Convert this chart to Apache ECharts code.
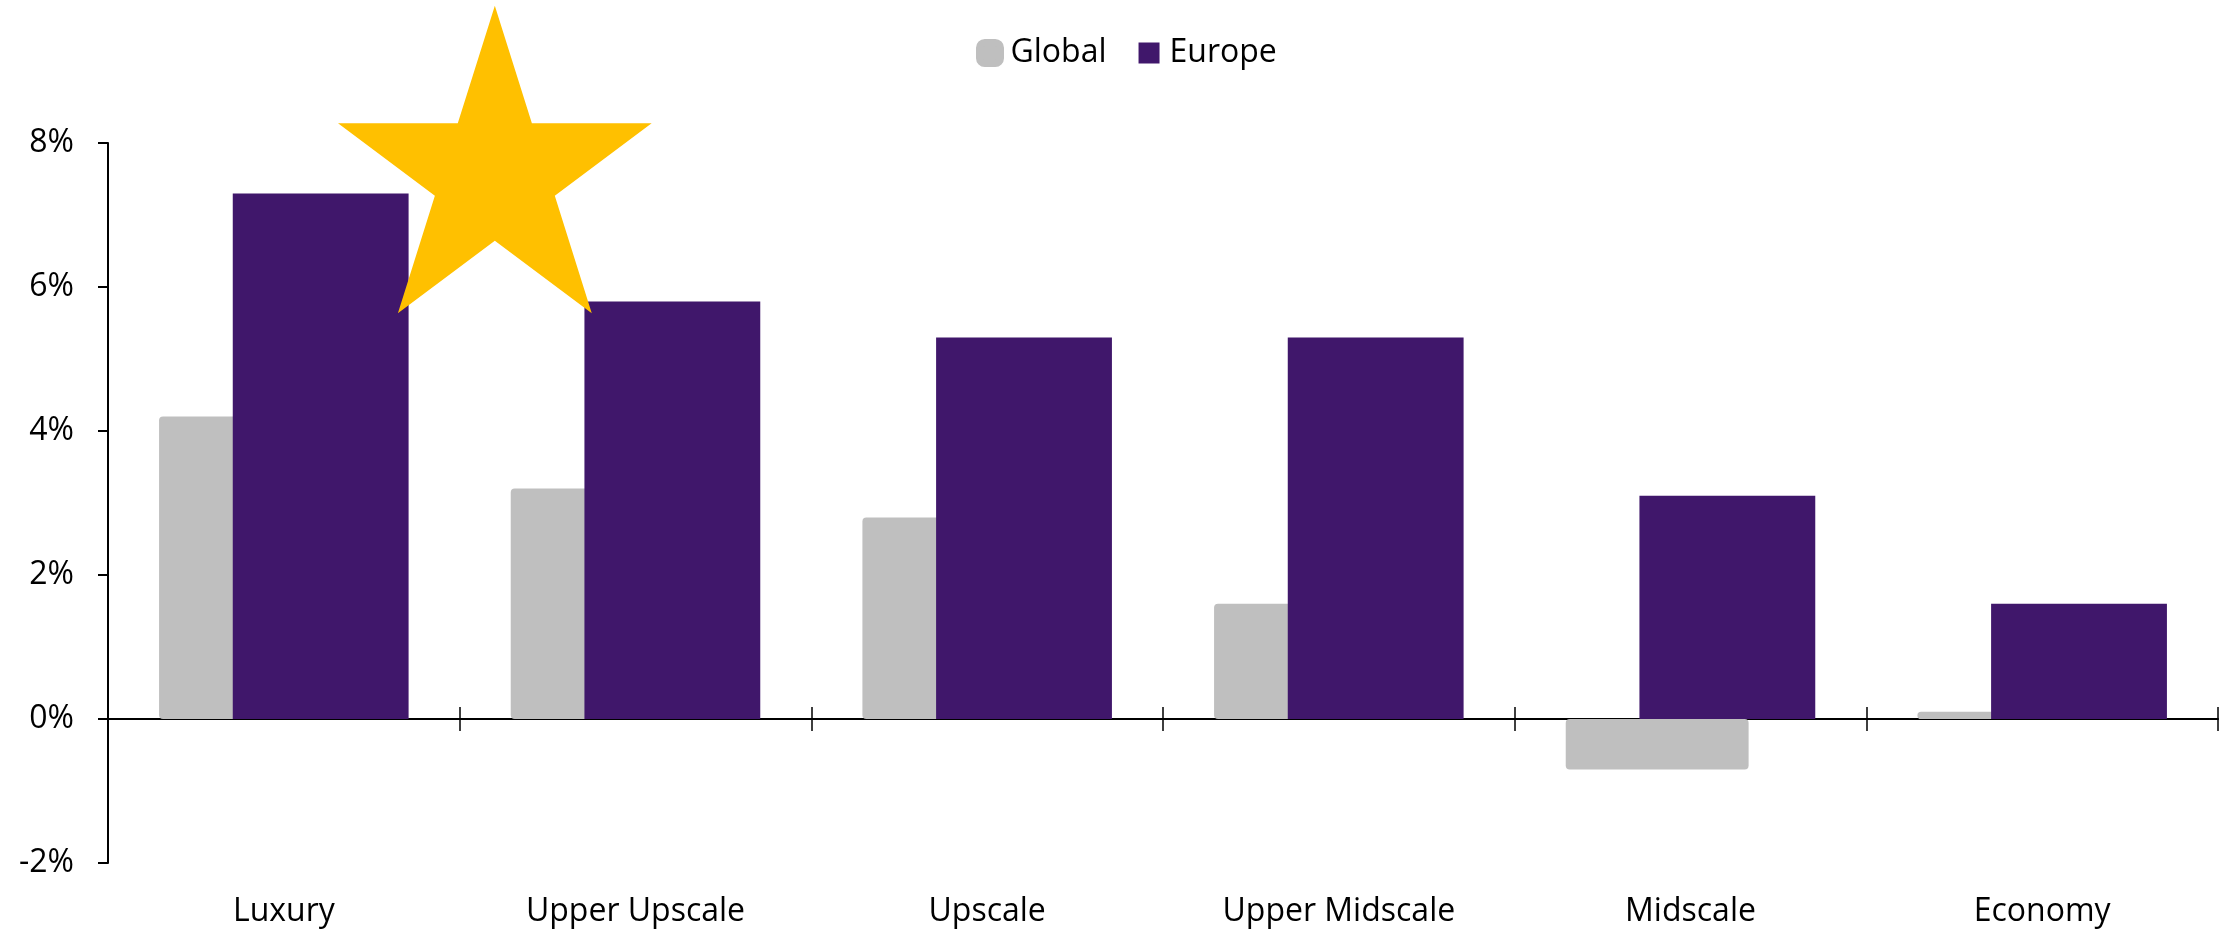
<!DOCTYPE html>
<html>
<head>
<meta charset="utf-8">
<script src="https://cdn.jsdelivr.net/npm/echarts@6/dist/echarts.min.js"></script>
<style>
  html, body { margin: 0; padding: 0; background: #ffffff; }
  #chart { width: 2239px; height: 933px; }
</style>
</head>
<body>
<div id="chart"></div>
<script>
// ---- data ----
var categories = ['Luxury', 'Upper Upscale', 'Upscale', 'Upper Midscale', 'Midscale', 'Economy'];
var globalValues = [4.2, 3.2, 2.8, 1.6, -0.7, 0.1];
var europeValues = [7.3, 5.8, 5.3, 5.3, 3.1, 1.6];
var yMin = -2, yMax = 8, yInterval = 2;
var seriesNames = ['Global', 'Europe'];
// star annotation (highlighting Luxury): placed between category 0 and 1, at a value level
var starCatFrom = 0, starCatFraction = 0.6, starValue = 7.545;

var FONT = 'Open Sans';
var chart = echarts.init(document.getElementById('chart'), null, { renderer: 'canvas' });

var option = {
  animation: false,
  backgroundColor: '#ffffff',
  textStyle: { fontFamily: FONT },
  legend: {
    left: 976,
    top: 37,
    padding: 0,
    itemGap: 32,
    itemWidth: 21,
    itemHeight: 21,
    textStyle: { fontFamily: FONT, fontSize: 32, color: '#000000', padding: [0, 0, 0, 5] },
    data: [
      { name: seriesNames[0], icon: 'roundRect', itemStyle: { color: '#BFBFBF', borderColor: '#BFBFBF', borderWidth: 7 } },
      { name: seriesNames[1], icon: 'rect', itemStyle: { color: '#40176B', borderWidth: 0 } }
    ]
  },
  grid: {
    left: 108, right: 21, top: 143, bottom: 70,
    containLabel: false
  },
  xAxis: [
    {
      // axis line at zero with downward ticks
      type: 'category',
      data: categories,
      position: 'bottom',
      axisLine: { show: true, onZero: true, onZeroAxisIndex: 0, lineStyle: { color: '#000000', width: 2 } },
      axisTick: { show: true, inside: false, length: 12, lineStyle: { color: '#000000', width: 1.5 } },
      axisLabel: { show: false },
      splitLine: { show: false }
    },
    {
      // upward halves of the crossing ticks at zero
      type: 'category',
      data: categories,
      position: 'bottom',
      axisLine: { show: false, onZero: true, onZeroAxisIndex: 1 },
      axisTick: { show: true, inside: true, length: 12, lineStyle: { color: '#000000', width: 1.5 } },
      axisLabel: { show: false },
      splitLine: { show: false }
    },
    {
      // category labels at the bottom of the plot
      type: 'category',
      data: categories,
      position: 'bottom',
      axisLine: { show: false, onZero: false },
      axisTick: { show: false },
      axisLabel: { show: true, margin: 33, fontFamily: FONT, fontSize: 32, color: '#000000' },
      splitLine: { show: false }
    }
  ],
  yAxis: [
    {
      type: 'value',
      min: yMin,
      max: yMax,
      interval: yInterval,
      axisLine: { show: true, lineStyle: { color: '#000000', width: 2 } },
      axisTick: { show: true, inside: false, length: 10, lineStyle: { color: '#000000', width: 2 } },
      axisLabel: { margin: 34, fontFamily: FONT, fontSize: 32, color: '#000000', formatter: '{value}%' },
      splitLine: { show: false }
    },
    {
      type: 'value',
      min: yMin,
      max: yMax,
      interval: yInterval,
      position: 'right',
      show: false,
      splitLine: { show: false }
    }
  ],
  series: [
    {
      name: seriesNames[0],
      type: 'bar',
      xAxisIndex: 0,
      yAxisIndex: 0,
      data: globalValues,
      barWidth: '52%',
      barGap: '-59.7%',
      itemStyle: { color: '#BFBFBF', borderRadius: 4 },
      z: 2
    },
    {
      name: seriesNames[1],
      type: 'bar',
      xAxisIndex: 0,
      yAxisIndex: 0,
      data: europeValues,
      barWidth: '50%',
      barGap: '-59.7%',
      itemStyle: { color: '#40176B' },
      z: 3
    }
  ]
};
chart.setOption(option);

// star annotation positioned through the chart's own scales
var pA = chart.convertToPixel({ xAxisIndex: 0, yAxisIndex: 0 }, [starCatFrom, starValue]);
var pB = chart.convertToPixel({ xAxisIndex: 0, yAxisIndex: 0 }, [starCatFrom + 1, starValue]);
var cx = pA[0] + starCatFraction * (pB[0] - pA[0]);
var cy = pA[1];
var Rout = 170, Rin = 65, sx = 0.97;
var pts = [];
for (var k = 0; k < 10; k++) {
  var ang = (-90 + k * 36) * Math.PI / 180;
  var r = (k % 2 === 0) ? Rout : Rin;
  pts.push([cx + sx * r * Math.cos(ang), cy + r * Math.sin(ang)]);
}
chart.setOption({
  graphic: [{
    type: 'polygon',
    shape: { points: pts },
    style: { fill: '#FFC000' },
    z: 100
  }]
});
</script>
</body>
</html>
